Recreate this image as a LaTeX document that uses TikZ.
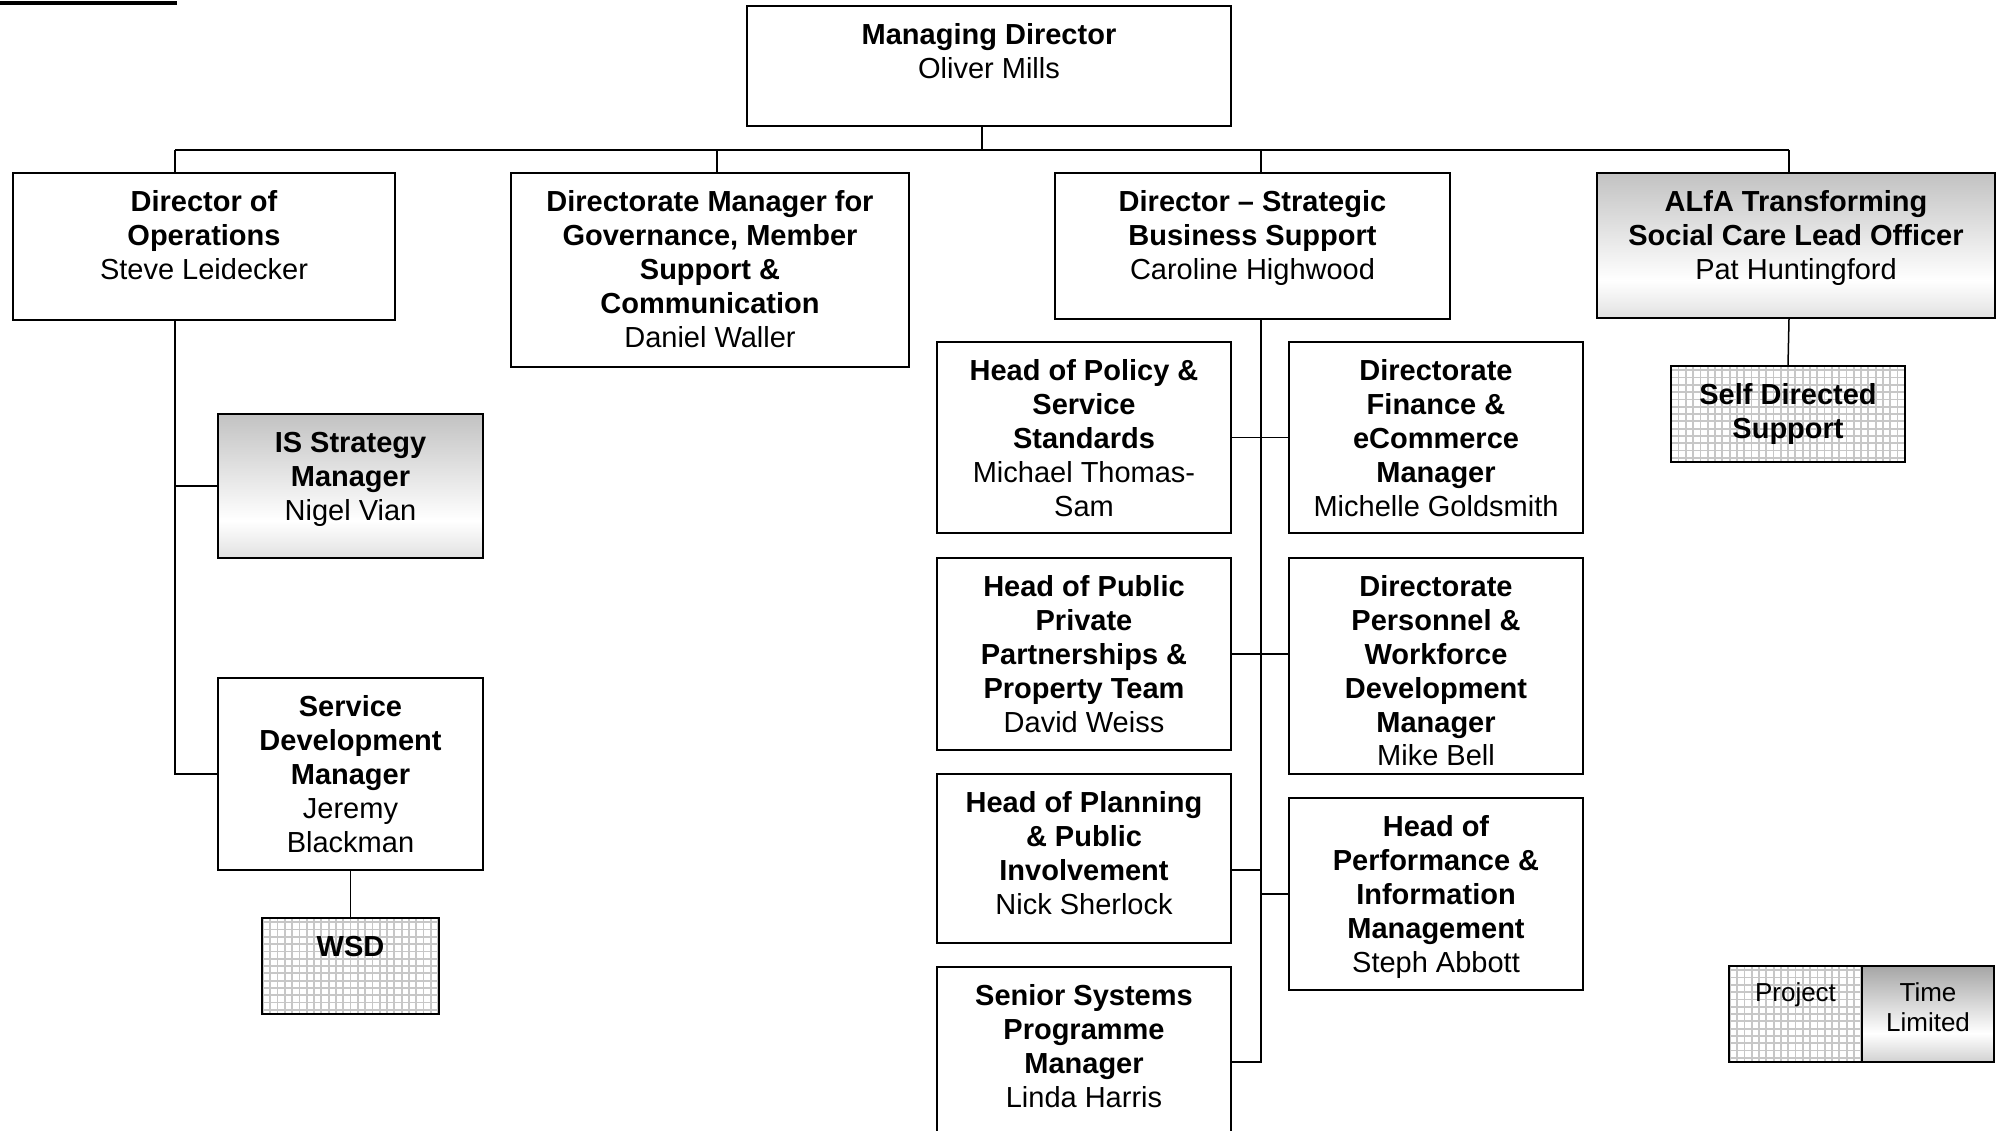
\documentclass[tikz,border=0pt]{standalone}
\usepackage{fontspec}
\setmainfont{Liberation Sans}
\definecolor{shTop}{gray}{0.60}
\definecolor{shBot}{gray}{0.66}
\definecolor{lgTop}{gray}{0.40}
\definecolor{lgBot}{gray}{0.52}
\definecolor{gridc}{gray}{0.78}
\pgfdeclareverticalshading{tlshade}{100bp}{color(0bp)=(shBot); color(38bp)=(white); color(100bp)=(shTop)}
\pgfdeclareverticalshading{lgshade}{100bp}{color(0bp)=(lgBot); color(40bp)=(white); color(100bp)=(lgTop)}
\tikzset{
  box/.style={draw=black, line width=1.6pt, fill=white, inner sep=0pt, rectangle},
  tlbox/.style={draw=black, line width=1.6pt, inner sep=0pt, rectangle, shade, shading=tlshade},
  lgbox/.style={draw=black, line width=1.6pt, inner sep=0pt, rectangle, shade, shading=lgshade},
  gridbox/.style={box, path picture={\draw[gridc, line width=1.8pt, step=7.3pt] (path picture bounding box.south west) grid (path picture bounding box.north east);}},
  txt/.style={align=center, inner sep=0pt, font=\fontsize{29}{33.8}\selectfont},
  legtxt/.style={align=center, inner sep=0pt, font=\fontsize{26}{29.5}\selectfont},
  conn/.style={draw=black, line width=1.5pt}
}
% name, x1, y1, x2, y2, style, text
\newcommand{\orgbox}[7]{%
  \node[#6, minimum width={#4pt-#2pt}, minimum height={#5pt-#3pt}] (#1) at ({(#2+#4)/2},{(#3+#5)/2}) {};
  \node[txt, anchor=north] (#1t) at ([yshift=-17.5pt]#1.north) {\rule{0pt}{22pt}#7};
}
\begin{document}
\begin{tikzpicture}[x=1pt, y=-1pt]
\clip (0,0) rectangle (2002,1131);
\fill[white] (0,0) rectangle (2002,1131);
\draw[line width=4pt] (0,3) -- (177,3);

% coordinates of the bus and spines
\coordinate (busL) at (175,150);
\coordinate (busR) at (1789,150);
\coordinate (mdC) at (982,150);
\coordinate (dmC) at (717,150);
\coordinate (dsC) at (1261,150);
\coordinate (sp) at (1261,1062);
\coordinate (hplanC) at (1261,870);

% boxes
\orgbox{md}{747}{6}{1231}{126}{box}{\textbf{Managing Director}\\Oliver Mills}
\orgbox{doo}{13}{173}{395}{320}{box}{\textbf{Director of}\\\textbf{Operations}\\Steve Leidecker}
\orgbox{dm}{511}{173}{909}{367}{box}{\textbf{Directorate Manager for}\\\textbf{Governance, Member}\\\textbf{Support \&}\\\textbf{Communication}\\Daniel Waller}
\orgbox{ds}{1055}{173}{1450}{319}{box}{\textbf{Director – Strategic}\\\textbf{Business Support}\\Caroline Highwood}
\orgbox{alfa}{1597}{173}{1995}{318}{tlbox}{\textbf{ALfA Transforming}\\\textbf{Social Care Lead Officer}\\Pat Huntingford}
\orgbox{sds}{1671}{366}{1905}{462}{gridbox}{\textbf{Self Directed}\\\textbf{Support}}
\orgbox{is}{218}{414}{483}{558}{tlbox}{\textbf{IS Strategy}\\\textbf{Manager}\\Nigel Vian}
\orgbox{sd}{218}{678}{483}{870}{box}{\textbf{Service}\\\textbf{Development}\\\textbf{Manager}\\Jeremy\\Blackman}
\orgbox{wsd}{262}{918}{439}{1014}{gridbox}{\textbf{WSD}}
\orgbox{hpol}{937}{342}{1231}{533}{box}{\textbf{Head of Policy \&}\\\textbf{Service}\\\textbf{Standards}\\Michael Thomas-\\Sam}
\orgbox{dfin}{1289}{342}{1583}{533}{box}{\textbf{Directorate}\\\textbf{Finance \&}\\\textbf{eCommerce}\\\textbf{Manager}\\Michelle Goldsmith}
\orgbox{hpub}{937}{558}{1231}{750}{box}{\textbf{Head of Public}\\\textbf{Private}\\\textbf{Partnerships \&}\\\textbf{Property Team}\\David Weiss}
\orgbox{dpers}{1289}{558}{1583}{774}{box}{\textbf{Directorate}\\\textbf{Personnel \&}\\\textbf{Workforce}\\\textbf{Development}\\\textbf{Manager}\\Mike Bell}
\orgbox{hplan}{937}{774}{1231}{943}{box}{\textbf{Head of Planning}\\\textbf{\& Public}\\\textbf{Involvement}\\Nick Sherlock}
\orgbox{hperf}{1289}{798}{1583}{990}{box}{\textbf{Head of}\\\textbf{Performance \&}\\\textbf{Information}\\\textbf{Management}\\Steph Abbott}
\orgbox{senior}{937}{967}{1231}{1240}{box}{\textbf{Senior Systems}\\\textbf{Programme}\\\textbf{Manager}\\Linda Harris}

% legend
\node[gridbox, minimum width=133pt, minimum height=96pt] (leg1) at (1795.5,1014) {};
\node[lgbox, minimum width=132pt, minimum height=96pt] (leg2) at (1928,1014) {};
\node[legtxt, anchor=north] (leg1t) at ([yshift=-17pt]leg1.north) {\rule{0pt}{19.5pt}Project};
\node[legtxt, anchor=north] (leg2t) at ([yshift=-17pt]leg2.north) {\rule{0pt}{19.5pt}Time\\Limited};

% connectors
\draw[conn] (busL) -- (busR);
\draw[conn] (md.south -| mdC) -- (mdC);
\draw[conn] (busL) -- (doo.north -| busL);
\draw[conn] (dmC) -- (dm.north -| dmC);
\draw[conn] (dsC) -- (ds.north -| dsC);
\draw[conn] (busR) -- (alfa.north -| busR);
\draw[conn] (alfa.south -| busR) -- (sds.north);
\draw[conn] (doo.south -| busL) |- (sd.west);
\draw[conn] (is.west -| busL) -- (is.west);
\draw[conn] (sd.south) -- (wsd.north);
\draw[conn] (ds.south -| sp) -- (sp) -- (senior.east |- sp);
\draw[conn] (hpol.east) -- (dfin.west);
\draw[conn] (hpub.east) -- (dpers.west |- hpub.east);
\draw[conn] (hplan.east |- hplanC) -- (hplanC);
\draw[conn] (hperf.west -| sp) -- (hperf.west);
\end{tikzpicture}
\end{document}
